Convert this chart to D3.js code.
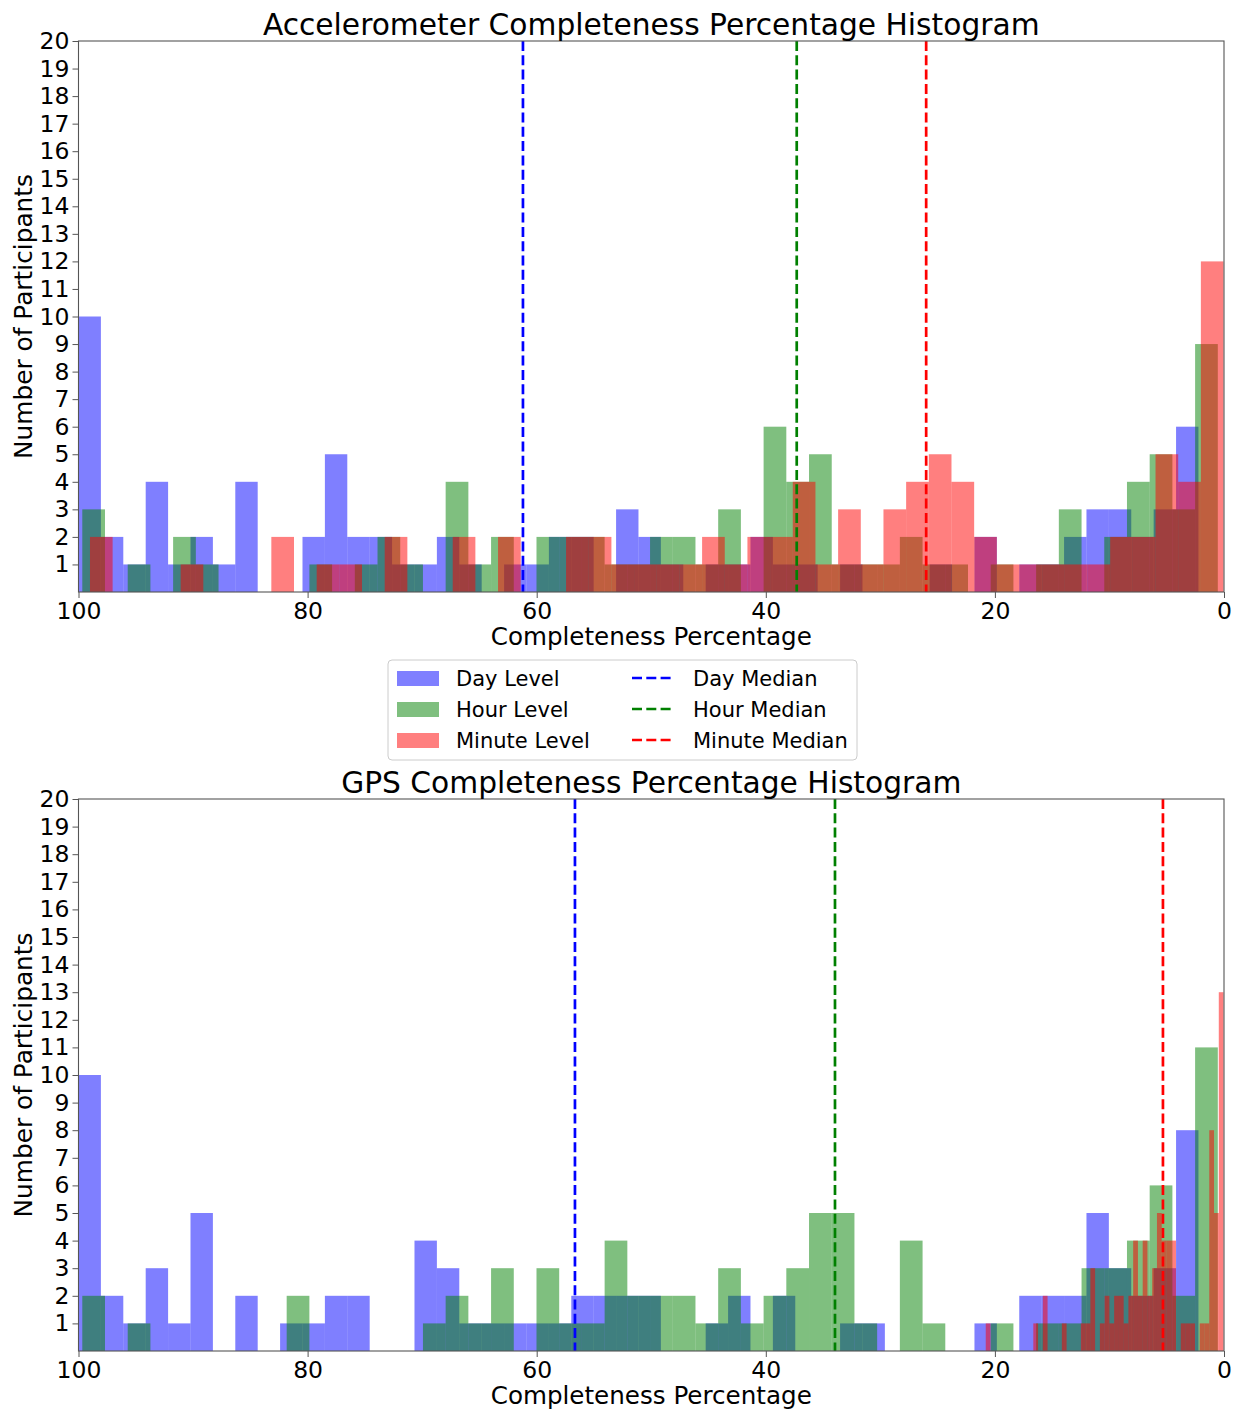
<!DOCTYPE html>
<html><head><meta charset="utf-8">
<script src="https://cdn.jsdelivr.net/npm/d3@7"></script>
<style>
body{margin:0;background:#fff;}
svg{display:block;font-family:"DejaVu Sans",sans-serif;}
</style></head><body>
<svg id="fig" width="1236" height="1409"></svg>
<script>
// Legend / series labels
const seriesNames = ["Day Level", "Hour Level", "Minute Level"];
const medianNames = ["Day Median", "Hour Median", "Minute Median"];
const seriesColors = ["blue", "green", "red"];
const xTickValues = [100, 80, 60, 40, 20, 0];
const yTickValues = d3.range(1, 21);

// Each histogram has 50 equal bins spanning [min, max] of its data.
// Counts are listed from the highest-percentage bin down to the lowest.

// Accelerometer
const accDayRange = [2.23, 100];
const accDayCounts = [10,2,1,4,1,2,1,4,0,0, 2,5,2,2,1,1,2,1,0,1, 1,2,2,0,3,2,1,0,1,1, 2,1,1,0,1,0,0,0,1,0, 2,0,1,1,2,3,3,2,3,6];
const accHourRange = [0.54, 99.67];
const accHourCounts = [3,0,1,0,2,1,0,0,0,0, 1,0,1,2,1,0,4,1,2,0, 2,2,2,1,1,2,2,1,3,0, 6,4,5,1,1,1,2,1,1,0, 1,0,1,3,0,2,4,5,3,9];
const accMinuteRange = [0.04, 99.0];
const accMinuteCounts = [2,0,0,0,1,0,0,0,2,0, 1,1,0,2,0,0,2,0,2,0, 0,2,2,1,1,1,1,2,1,2, 2,4,1,3,1,3,4,5,4,2, 1,1,1,1,1,2,2,5,4,12];
const accMedians = [61.2, 37.3, 26.0];

// GPS
const gpsDayRange = [2.23, 100];
const gpsDayCounts = [10,2,1,3,1,5,0,2,0,1, 1,2,2,0,0,4,3,1,1,1, 1,1,2,2,2,2,0,0,1,2, 0,2,0,0,1,1,0,0,0,0, 1,0,2,2,2,5,3,2,3,8];
const gpsHourRange = [0.54, 99.67];
const gpsHourCounts = [2,0,1,0,0,0,0,0,0,2, 0,0,0,0,0,1,2,1,3,0, 3,1,1,4,2,2,2,1,3,1, 2,3,5,5,1,0,4,1,0,0, 1,0,1,1,3,3,4,6,2,11];
const gpsMinuteRange = [0.04, 20.8];
const gpsMinuteCounts = [1,0,0,0,0,0,0,0,0,0, 1,0,2,0,0,0,1,0,0,0, 1,1,3,0,1,2,1,2,2,1, 2,4,2,4,2,3,5,4,4,4, 0,1,1,1,0,1,1,8,5,13];
const gpsMedians = [56.66, 33.96, 5.33];

const panels = [
  {title: "Accelerometer Completeness Percentage Histogram", top: 41, bottom: 592,
   series: [[accDayRange, accDayCounts], [accHourRange, accHourCounts], [accMinuteRange, accMinuteCounts]],
   medians: accMedians, titleY: 35, xLabelY: 645},
  {title: "GPS Completeness Percentage Histogram", top: 799, bottom: 1351,
   series: [[gpsDayRange, gpsDayCounts], [gpsHourRange, gpsHourCounts], [gpsMinuteRange, gpsMinuteCounts]],
   medians: gpsMedians, titleY: 793, xLabelY: 1404}
];

const svg = d3.select("#fig");
const left = 78.5, right = 1224;
const x = d3.scaleLinear().domain([100, 0]).range([left, right]);

function binsOf(range, counts) {
  const [lo, hi] = range, n = counts.length, w = (hi - lo) / n;
  return counts.map((c, i) => ({x0: hi - i * w, x1: hi - (i + 1) * w, count: c}));
}

panels.forEach(p => {
  const y = d3.scaleLinear().domain([0, 20]).range([p.bottom, p.top]);
  const g = svg.append("g");

  // histogram bars
  p.series.forEach(([range, counts], si) => {
    g.append("g").selectAll("rect")
      .data(binsOf(range, counts).filter(b => b.count > 0))
      .join("rect")
      .attr("x", b => x(b.x0))
      .attr("width", b => x(b.x1) - x(b.x0))
      .attr("y", b => y(b.count))
      .attr("height", b => y(0) - y(b.count))
      .attr("fill", seriesColors[si])
      .attr("fill-opacity", 0.5);
  });

  // median lines
  p.medians.forEach((m, si) => {
    g.append("line")
      .attr("x1", x(m)).attr("x2", x(m))
      .attr("y1", p.top).attr("y2", p.bottom)
      .attr("stroke", seriesColors[si])
      .attr("stroke-width", 2.7)
      .attr("stroke-dasharray", "10,4.3");
  });

  // frame
  g.append("rect").attr("x", left).attr("y", p.top)
    .attr("width", right - left).attr("height", p.bottom - p.top)
    .attr("fill", "none").attr("stroke", "#555").attr("stroke-width", 1.1);

  // axes
  const xa = g.append("g").attr("transform", `translate(0,${p.bottom})`)
    .call(d3.axisBottom(x).tickValues(xTickValues).tickSize(6).tickPadding(4));
  const ya = g.append("g").attr("transform", `translate(${left},0)`)
    .call(d3.axisLeft(y).tickValues(yTickValues).tickSize(6).tickPadding(3));
  [xa, ya].forEach(a => {
    a.select(".domain").remove();
    a.selectAll("line").attr("stroke", "#555");
    a.selectAll("text").attr("font-size", 23.5).attr("fill", "#000")
      .attr("font-family", '"DejaVu Sans", sans-serif');
  });

  g.append("text").attr("x", (left + right) / 2).attr("y", p.titleY)
    .attr("text-anchor", "middle").attr("font-size", 29.7).text(p.title);
  g.append("text").attr("x", (left + right) / 2).attr("y", p.xLabelY)
    .attr("text-anchor", "middle").attr("font-size", 24.6).text("Completeness Percentage");
  g.append("text")
    .attr("transform", `translate(32,${(p.top + p.bottom) / 2}) rotate(-90)`)
    .attr("text-anchor", "middle").attr("font-size", 24.8).text("Number of Participants");
});

// legend between the panels
const lg = svg.append("g").attr("transform", "translate(388,660)");
lg.append("rect").attr("width", 469).attr("height", 100).attr("rx", 4)
  .attr("fill", "#fff").attr("stroke", "#ccc").attr("stroke-width", 1);
seriesNames.forEach((name, i) => {
  const cy = 18 + i * 31;
  lg.append("rect").attr("x", 9).attr("y", cy - 7).attr("width", 42).attr("height", 15)
    .attr("fill", seriesColors[i]).attr("fill-opacity", 0.5);
  lg.append("text").attr("x", 68).attr("y", cy + 8).attr("font-size", 21).text(name);
});
medianNames.forEach((name, i) => {
  const cy = 18 + i * 31;
  lg.append("line").attr("x1", 244).attr("x2", 286).attr("y1", cy).attr("y2", cy)
    .attr("stroke", seriesColors[i]).attr("stroke-width", 2.7).attr("stroke-dasharray", "10,4.3");
  lg.append("text").attr("x", 305).attr("y", cy + 8).attr("font-size", 21).text(name);
});
</script>
</body></html>
